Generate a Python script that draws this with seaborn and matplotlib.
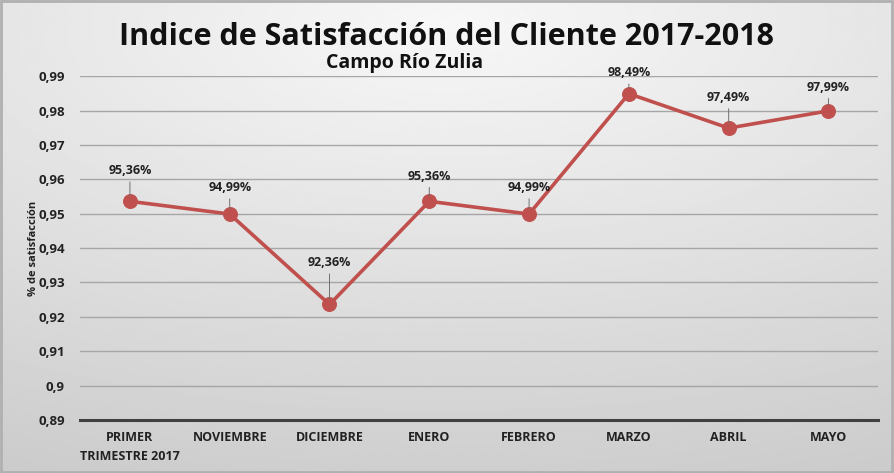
import numpy as np
import pandas as pd
import matplotlib
matplotlib.use("Agg")
import matplotlib.pyplot as plt
import seaborn as sns
from matplotlib.ticker import FuncFormatter

# Data
meses = ["PRIMER\nTRIMESTRE 2017", "NOVIEMBRE", "DICIEMBRE", "ENERO",
         "FEBRERO", "MARZO", "ABRIL", "MAYO"]
satisfaccion = [0.9536, 0.9499, 0.9236, 0.9536, 0.9499, 0.9849, 0.9749, 0.9799]
etiquetas = ["95,36%", "94,99%", "92,36%", "95,36%", "94,99%", "98,49%", "97,49%", "97,99%"]
y_ticks = [0.89, 0.90, 0.91, 0.92, 0.93, 0.94, 0.95, 0.96, 0.97, 0.98, 0.99]

df = pd.DataFrame({"mes": meses, "valor": satisfaccion, "x": range(len(meses))})

sns.set_theme(style="white")
plt.rcParams["font.family"] = ["Open Sans", "DejaVu Sans"]

fig = plt.figure(figsize=(8.94, 4.73), dpi=100)

# gray gradient background
bg = fig.add_axes([0, 0, 1, 1], zorder=-10)
yy, xx = np.mgrid[0:1:200j, 0:1:400j]
shade = 0.97 - 0.14 * np.sqrt(((xx - 0.5) * 1.0) ** 2 + ((yy - 0.05) * 1.2) ** 2)
bg.imshow(shade, cmap="gray", vmin=0, vmax=1, aspect="auto", origin="upper",
          extent=[0, 1, 0, 1])
bg.set_axis_off()
fig.patches.append(plt.Rectangle((0.001, 0.002), 0.997, 0.995, transform=fig.transFigure,
                                 fill=False, edgecolor="#b0b0b0", linewidth=2))

ax = fig.add_axes([0.0895, 0.112, 0.893, 0.727])
ax.patch.set_alpha(0)

sns.lineplot(data=df, x="x", y="valor", ax=ax, color="#C0504D", linewidth=2.6,
             marker="o", markersize=10, markeredgecolor="#C0504D", zorder=5)

ax.set_xlim(-0.5, len(meses) - 0.5)
ax.set_ylim(0.89, 0.99)
ax.set_yticks(y_ticks)
ax.yaxis.set_major_formatter(FuncFormatter(lambda v, p: f"{round(v, 2):g}".replace(".", ",")))
ax.set_xticks(range(len(meses)))
ax.set_xticklabels(meses, fontsize=9, fontweight="bold", color="#222222", linespacing=1.6)
ax.tick_params(axis="y", labelsize=9.5, labelcolor="#222222", length=0, pad=11)
ax.tick_params(axis="x", length=0, pad=8)
for lbl in ax.get_yticklabels():
    lbl.set_fontweight("bold")

ax.grid(True, axis="y", color="#a6a6a6", linewidth=1)
ax.grid(False, axis="x")
for s in ["left", "right", "top"]:
    ax.spines[s].set_visible(False)
ax.spines["bottom"].set_color("#404040")
ax.spines["bottom"].set_linewidth(2.2)

ax.set_xlabel("")
ax.set_ylabel("% de satisfacción", fontsize=8, fontweight="bold", color="#222222", labelpad=-1)

# data labels with leader lines
offsets = [22, 19, 30, 18, 19, 15, 22, 17]
for i, (v, t) in enumerate(zip(satisfaccion, etiquetas)):
    ax.annotate(t, xy=(i, v), xytext=(0, offsets[i]), textcoords="offset points",
                ha="center", va="center", fontsize=9, fontweight="bold", color="#222222",
                arrowprops=dict(arrowstyle="-", color="#707070", linewidth=0.7,
                                shrinkA=1, shrinkB=4), zorder=6)

fig.text(0.499, 0.922, "Indice de Satisfacción del Cliente 2017-2018", ha="center",
         va="center", fontsize=22, fontweight="bold", color="#111111")
fig.text(0.452, 0.866, "Campo Río Zulia", ha="center", va="center", fontsize=14,
         fontweight="bold", color="#111111")

fig.savefig("out.png", dpi=100)
